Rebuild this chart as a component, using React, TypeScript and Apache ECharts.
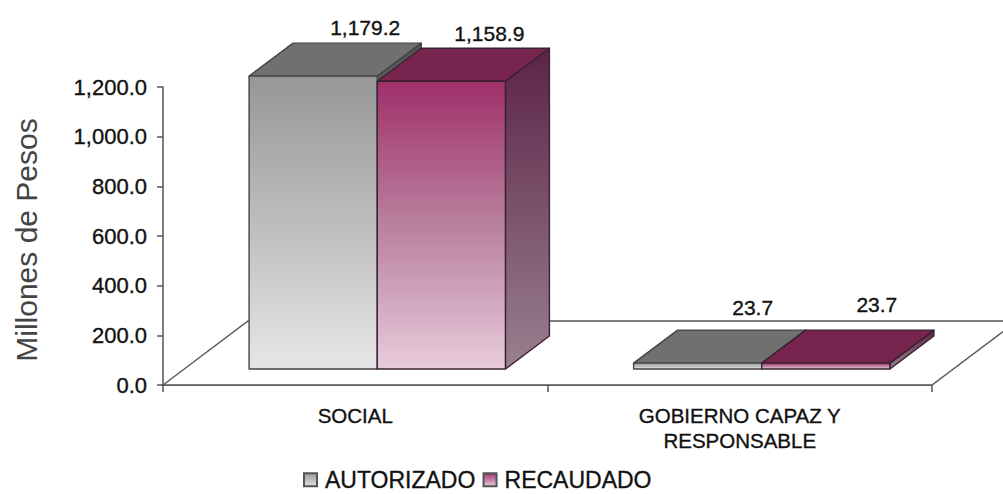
import React, { useEffect, useRef } from "react";
import * as echarts from "echarts";

const categories = ["SOCIAL", "GOBIERNO CAPAZ Y\nRESPONSABLE"];
const autorizado = [1179.2, 23.7];
const recaudado = [1158.9, 23.7];
const yTicks = { min: 0, max: 1200, interval: 200 };

const FONT = "'Liberation Sans', Arial, sans-serif";
const fmt = (v: number) =>
  v.toLocaleString("en-US", { minimumFractionDigits: 1, maximumFractionDigits: 1 });
const grad = (stops: [number, string][]) =>
  new echarts.graphic.LinearGradient(0, 0, 0, 1, stops.map(([offset, color]) => ({ offset, color })));

// oblique projection of the 3D look
const floorDepth = { dx: 85, dy: -64 };
const barInset = { dx: 22, dy: -16 };
const barDepth = { dx: 44, dy: -33 };
const labelShift = [
  [[52, -49], [55, -56]],
  [[48, -48], [51, -59]],
];
const inkBorder = { textBorderColor: "#111111", textBorderWidth: 0.35 };

const palettes = [
  {
    front: [[0, "#979797"], [0.5, "#bdbdbd"], [1, "#e6e6e6"]] as [number, string][],
    side: [[0, "#555555"], [1, "#8a8a8a"]] as [number, string][],
    top: "#707070",
    stroke: "#444444",
    legend: [[0, "#999999"], [1, "#e0e0e0"]] as [number, string][],
  },
  {
    front: [[0, "#a0306a"], [0.5, "#b9809f"], [1, "#e8cbdb"]] as [number, string][],
    side: [[0, "#5c2347"], [1, "#99808f"]] as [number, string][],
    top: "#77254f",
    stroke: "#3a2232",
    legend: [[0, "#a0306a"], [1, "#e8cbdb"]] as [number, string][],
  },
];

function barSeries(name: string, values: number[], index: number) {
  const p = palettes[index];
  return {
    type: "custom",
    name,
    silent: true,
    clip: false,
    z: 3 + index,
    itemStyle: { color: grad(p.legend), borderColor: "#555555", borderWidth: 1.5 },
    data: values.map((v, i) => [i, v]),
    encode: { x: 0, y: 1 },
    renderItem: (_params: any, api: any) => {
      const cat = api.value(0);
      const val = api.value(1);
      const [cx, yTop0] = api.coord([cat, val]);
      const [, yBase0] = api.coord([cat, 0]);
      const band = api.size([1, 0])[0];
      const w = band / 3;
      const x0 = cx - w + index * w + barInset.dx;
      const x1 = x0 + w;
      const yTop = yTop0 + barInset.dy;
      const yBase = yBase0 + barInset.dy;
      const { dx, dy } = barDepth;
      const line = { stroke: p.stroke, lineWidth: 1.4, lineJoin: "round" };
      const [lx, ly] = labelShift[index][cat];
      return {
        type: "group",
        children: [
          {
            type: "polygon",
            shape: { points: [[x1, yBase], [x1 + dx, yBase + dy], [x1 + dx, yTop + dy], [x1, yTop]] },
            style: { fill: grad(p.side), ...line },
          },
          {
            type: "polygon",
            shape: { points: [[x0, yTop], [x1, yTop], [x1 + dx, yTop + dy], [x0 + dx, yTop + dy]] },
            style: { fill: p.top, ...line },
          },
          {
            type: "rect",
            shape: { x: x0, y: yTop, width: w, height: yBase - yTop },
            style: { fill: grad(p.front), ...line },
          },
          {
            type: "text",
            style: {
              text: fmt(val),
              x: x0 + w / 2 + lx,
              y: yTop + ly,
              align: "center",
              verticalAlign: "middle",
              fill: "#111111",
              fontFamily: FONT,
              fontSize: 21,
              stroke: "#111111",
              lineWidth: 0.35,
            },
          },
        ],
      };
    },
  };
}

const floorSeries = {
  type: "custom",
  name: "floor",
  silent: true,
  clip: false,
  z: 1,
  data: [[0, 0]],
  encode: { x: 0, y: 1 },
  renderItem: (params: any) => {
    const c = params.coordSys;
    const b = c.y + c.height;
    const r = c.x + c.width;
    return {
      type: "polygon",
      shape: {
        points: [
          [c.x, b],
          [c.x + floorDepth.dx, b + floorDepth.dy],
          [r + floorDepth.dx, b + floorDepth.dy],
          [r, b],
        ],
      },
      style: { fill: "#ffffff", stroke: "#555555", lineWidth: 1.4 },
    };
  },
};

export default function App() {
  const ref = useRef<HTMLDivElement>(null);
  useEffect(() => {
    const chart = echarts.init(ref.current!, null, { renderer: "svg" });
    chart.setOption({
      animation: false,
      backgroundColor: "#ffffff",
      grid: { left: 163, right: 71, top: 87, bottom: 109, containLabel: false, outerBoundsMode: "none" },
      legend: {
        data: ["AUTORIZADO", "RECAUDADO"],
        left: 303,
        top: 468,
        icon: "rect",
        itemWidth: 13,
        itemHeight: 13,
        itemGap: 7,
        padding: 0,
        selectedMode: false,
        textStyle: {
          fontFamily: FONT,
          fontSize: 23,
          lineHeight: 16,
          color: "#111111",
          padding: [0, 0, 0, 3],
          ...inkBorder,
        },
      },
      xAxis: {
        type: "category",
        data: categories,
        axisLine: { lineStyle: { color: "#555555", width: 1.5 } },
        axisTick: { show: true, length: 7, lineStyle: { color: "#555555", width: 1.5 } },
        axisLabel: {
          interval: 0,
          margin: 18,
          fontFamily: FONT,
          fontSize: 20.5,
          lineHeight: 25,
          color: "#111111",
          ...inkBorder,
        },
      },
      yAxis: {
        type: "value",
        min: yTicks.min,
        max: yTicks.max,
        interval: yTicks.interval,
        name: "Millones de Pesos",
        nameLocation: "middle",
        nameGap: 122,
        nameRotate: 90,
        nameTextStyle: { fontFamily: FONT, fontSize: 30, color: "#444444", padding: [0, 8, 0, 0] },
        splitLine: { show: false },
        axisLine: { show: true, lineStyle: { color: "#555555", width: 1.5 } },
        axisTick: { show: true, length: 6, lineStyle: { color: "#555555", width: 1.5 } },
        axisLabel: {
          margin: 16,
          fontFamily: FONT,
          fontSize: 22,
          color: "#111111",
          ...inkBorder,
          formatter: (v: number) => fmt(v),
        },
      },
      series: [floorSeries, barSeries("AUTORIZADO", autorizado, 0), barSeries("RECAUDADO", recaudado, 1)],
    });
    return () => chart.dispose();
  }, []);
  return <div ref={ref} style={{ position: "fixed", left: 0, top: 0, width: 1003, height: 494 }} />;
}
